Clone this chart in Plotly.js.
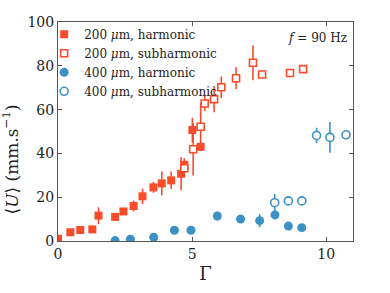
<!DOCTYPE html>
<html>
<head>
<meta charset="utf-8">
<script src="https://cdn.plot.ly/plotly-3.0.1.min.js"></script>
<style>html,body{margin:0;padding:0;background:#fff;}#chart{width:390px;height:293px;}</style>
</head>
<body>
<div id="chart"></div>
<script>
// 200 µm, harmonic
const g200h = [0, 0.46, 0.83, 1.28, 1.51, 2.13, 2.44, 2.82, 3.15, 3.56, 3.87, 4.22, 4.59, 4.71, 5.01, 5.32];
const u200h = [1, 4, 5, 5.3, 11.6, 11, 13.5, 16, 20.4, 24.5, 26.3, 27.7, 30.7, 34.8, 50.7, 43];
const e200h = [0, 0, 0, 0, 3.8, 0, 0, 2.5, 3.5, 2.5, 5.5, 4, 7.5, 3, 5.5, 1.5];
// 200 µm, subharmonic
const g200s = [4.71, 5.04, 5.32, 5.47, 5.82, 6.09, 6.64, 7.27, 7.61, 8.65, 9.14];
const u200s = [33.2, 41.9, 52.2, 62.8, 64.8, 70.2, 74.3, 81.4, 76, 76.7, 78.5];
const e200s = [3, 12, 11, 3.5, 6, 5, 5, 8, 1, 0.8, 1.5];
// 400 µm, harmonic
const g400h = [2.13, 2.70, 3.57, 4.34, 4.96, 5.94, 6.81, 7.52, 8.09, 8.59, 9.09];
const u400h = [0.2, 0.8, 1.7, 4.9, 4.9, 11.4, 10, 9.3, 11.9, 6.8, 6.1];
const e400h = [0, 0, 0, 0, 0, 2, 0, 3, 2, 1.5, 0];
// 400 µm, subharmonic
const g400s = [8.08, 8.59, 9.09, 9.64, 10.14, 10.74];
const u400s = [17.5, 18.3, 18.3, 48.2, 47.3, 48.5];
const e400s = [4, 0, 0, 3.5, 7, 0];

const red = '#fa4b2a';
const blue = '#3b90c4';
const serif = '"DejaVu Serif", "Liberation Serif", serif';

function errs(arr, color) {
  return {type: 'data', array: arr, visible: true, color: color, thickness: 1.6, width: 0};
}

const traces = [
  {x: g200h, y: u200h, error_y: errs(e200h, red), type: 'scatter', mode: 'markers',
   name: '200 <i>μ</i>m, harmonic',
   marker: {symbol: 'square', size: 8, color: red}},
  {x: g200s, y: u200s, error_y: errs(e200s, red), type: 'scatter', mode: 'markers',
   name: '200 <i>μ</i>m, subharmonic',
   marker: {symbol: 'square', size: 7, color: '#ffffff', line: {color: red, width: 1.6}}},
  {x: g400h, y: u400h, error_y: errs(e400h, blue), type: 'scatter', mode: 'markers',
   name: '400 <i>μ</i>m, harmonic',
   marker: {symbol: 'circle', size: 9, color: blue}},
  {x: g400s, y: u400s, error_y: errs(e400s, blue), type: 'scatter', mode: 'markers',
   name: '400 <i>μ</i>m, subharmonic',
   marker: {symbol: 'circle', size: 8, color: '#ffffff', line: {color: blue, width: 1.6}}}
];

const layout = {
  width: 390, height: 293,
  margin: {l: 58, r: 37, t: 22, b: 52},
  paper_bgcolor: '#fff', plot_bgcolor: '#fff',
  font: {family: serif, color: '#222', size: 14},
  showlegend: true,
  legend: {x: -0.047, y: 1.01, xanchor: 'left', yanchor: 'top', bgcolor: 'rgba(0,0,0,0)',
           font: {family: serif, size: 12, color: '#222'}, tracegroupgap: 0, itemwidth: 30},
  xaxis: {range: [0, 11], tickvals: [0, 5, 10], ticks: 'inside', ticklen: 4, tickcolor: '#555',
          showline: true, linecolor: '#555', linewidth: 1, mirror: 'ticks', showgrid: false, zeroline: false,
          tickfont: {family: serif, size: 14, color: '#222'},
          title: {text: 'Γ', font: {family: serif, size: 18, color: '#222'}, standoff: 6}},
  yaxis: {range: [0, 100], tickvals: [0, 20, 40, 60, 80, 100], ticks: 'inside', ticklen: 4, tickcolor: '#555',
          showline: true, linecolor: '#555', linewidth: 1, mirror: 'ticks', showgrid: false, zeroline: false,
          tickfont: {family: serif, size: 14, color: '#222'}},
  annotations: [
    {xref: 'paper', yref: 'paper', x: 0.988, y: 0.925, xanchor: 'right', yanchor: 'middle',
     text: '<i>f</i> = 90 Hz', showarrow: false, font: {family: serif, size: 12, color: '#222'}},
    {xref: 'paper', yref: 'paper', x: -0.163, y: 0.372, xanchor: 'center', yanchor: 'middle', textangle: -90,
     text: '⟨<i>U</i>⟩ (mm.s<sup>−1</sup>)', showarrow: false, font: {family: serif, size: 17, color: '#222'}}
  ]
};

Plotly.newPlot('chart', traces, layout, {displayModeBar: false, staticPlot: true});
</script>
</body>
</html>
